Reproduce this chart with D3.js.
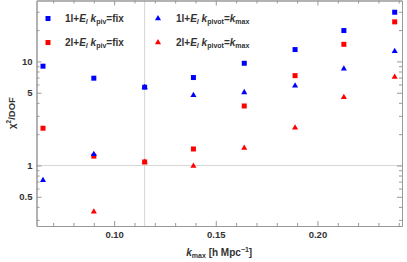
<!DOCTYPE html>
<html>
<head>
<meta charset="utf-8">
<title>chi2 vs kmax</title>
<script type="text/javascript" src="https://d3js.org/d3.v7.js"></script>
<style>
  body { margin: 0; background: #fff; }
  text { font-family: "Liberation Sans", Arial, sans-serif; font-weight: bold; fill: #333; }
</style>
</head>
<body>
<script type="text/javascript">
const width = 407;
const height = 262;
const marginTop = 0.5;
const marginRight = 5;
const marginBottom = 36;
const marginLeft = 36.5;

// data
const kmax = [0.065, 0.090, 0.115, 0.139, 0.164, 0.189, 0.213, 0.238];
const oneLoopFix   = [9.0, 6.9, 5.65, 7.0, 9.6, 13.0, 19.8, 29.7];
const twoLoopFix   = [2.28, 1.23, 1.08, 1.44, 3.73, 7.3, 14.6, 24.0];
const oneLoopPivot = [0.72, 1.28, 5.65, 4.72, 5.04, 5.85, 8.5, 12.5];
const twoLoopPivot = [null, 0.36, 1.08, 0.99, 1.47, 2.31, 4.52, 7.07];
const xMajor = [0.10, 0.15, 0.20];
const yMajor = [0.5, 1, 5, 10];
const kPivotFix = 0.115;

const svg = d3.select("body").append("svg")
  .attr("width", width).attr("height", height);

const x = d3.scaleLinear().domain([0.0618, 0.2416]).range([marginLeft, width - marginRight]);
const y = d3.scaleLog().domain([0.262, 38.5]).range([height - marginBottom, marginTop]);

// grid lines
svg.append("line")
  .attr("x1", x(kPivotFix)).attr("x2", x(kPivotFix))
  .attr("y1", y.range()[0]).attr("y2", y.range()[1])
  .attr("stroke", "#d6d6d6").attr("stroke-width", 1);
svg.append("line")
  .attr("x1", x.range()[0]).attr("x2", x.range()[1])
  .attr("y1", y(1)).attr("y2", y(1))
  .attr("stroke", "#d6d6d6").attr("stroke-width", 1);

// ticks
const xMinor = d3.range(7, 25).map(d => d / 100).filter(d => !xMajor.some(m => Math.abs(m - d) < 1e-9));
const yMinor = [0.3, 0.4, 0.6, 0.7, 0.8, 0.9, 2, 3, 4, 6, 7, 8, 9, 20, 30];
const fmtX = d3.format(".2f");
const fmtY = d => d < 1 ? String(d) : String(d);

function frameAxis(axis, tf) {
  const g = svg.append("g").attr("transform", tf).call(axis);
  g.select(".domain").attr("stroke", "#999");
  g.selectAll(".tick line").attr("stroke", "#999");
  g.selectAll(".tick text").attr("font-size", 9.5).attr("fill", "#333");
  return g;
}
const bottomY = height - marginBottom;
const rightX = width - marginRight;

frameAxis(d3.axisBottom(x).tickValues(xMajor).tickFormat(fmtX).tickSizeInner(-5).tickSizeOuter(0).tickPadding(5), `translate(0,${bottomY})`);
frameAxis(d3.axisBottom(x).tickValues(xMinor).tickFormat("").tickSizeInner(-3).tickSizeOuter(0), `translate(0,${bottomY})`);
frameAxis(d3.axisTop(x).tickValues(xMajor).tickFormat("").tickSizeInner(-5).tickSizeOuter(0), `translate(0,${marginTop})`);
frameAxis(d3.axisTop(x).tickValues(xMinor).tickFormat("").tickSizeInner(-3).tickSizeOuter(0), `translate(0,${marginTop})`);
frameAxis(d3.axisLeft(y).tickValues(yMajor).tickFormat(fmtY).tickSizeInner(-5).tickSizeOuter(0).tickPadding(4), `translate(${marginLeft},0)`);
frameAxis(d3.axisLeft(y).tickValues(yMinor).tickFormat("").tickSizeInner(-3).tickSizeOuter(0), `translate(${marginLeft},0)`);
frameAxis(d3.axisRight(y).tickValues(yMajor).tickFormat("").tickSizeInner(-5).tickSizeOuter(0), `translate(${rightX},0)`);
frameAxis(d3.axisRight(y).tickValues(yMinor).tickFormat("").tickSizeInner(-3).tickSizeOuter(0), `translate(${rightX},0)`);

// markers
const sqSym = d3.symbol().type(d3.symbolSquare).size(25);
const triSym = d3.symbol().type(d3.symbolTriangle).size(16);
const series = [
  { vals: oneLoopFix, color: "#0000ff", sym: sqSym },
  { vals: twoLoopFix, color: "#ff0000", sym: sqSym },
  { vals: oneLoopPivot, color: "#0000ff", sym: triSym },
  { vals: twoLoopPivot, color: "#ff0000", sym: triSym }
];
series.forEach(s => {
  svg.append("g").selectAll("path")
    .data(kmax.map((k, i) => [k, s.vals[i]]).filter(d => d[1] != null))
    .join("path")
    .attr("d", s.sym)
    .attr("transform", d => `translate(${x(d[0])},${y(d[1])})`)
    .attr("fill", s.color);
});

// legend
function legendLabel(g, tx, ty, pivotStyle) {
  const t = g.append("text").attr("x", tx).attr("y", ty).attr("font-size", 10).attr("fill", "#111");
  t.append("tspan").text(pivotStyle.prefix + "+");
  t.append("tspan").attr("font-style", "italic").text("E");
  t.append("tspan").attr("font-style", "italic").attr("font-size", 7).attr("dy", 2).text("l");
  t.append("tspan").attr("dy", -2).text(" ");
  t.append("tspan").attr("font-style", "italic").text("k");
  t.append("tspan").attr("font-size", 7).attr("dy", 2).text(pivotStyle.sub);
  t.append("tspan").attr("dy", -2).text("=");
  if (pivotStyle.rhs === "fix") {
    t.append("tspan").text("fix");
  } else {
    t.append("tspan").attr("font-style", "italic").text("k");
    t.append("tspan").attr("font-size", 7).attr("dy", 2).text("max");
  }
}
const legend = svg.append("g");
const legendItems = [
  { lx: 48, ly: 18.5, sym: sqSym, color: "#0000ff", prefix: "1l", sub: "piv", rhs: "fix" },
  { lx: 48, ly: 42.5, sym: sqSym, color: "#ff0000", prefix: "2l", sub: "piv", rhs: "fix" },
  { lx: 158, ly: 18.5, sym: triSym, color: "#0000ff", prefix: "1l", sub: "pivot", rhs: "kmax" },
  { lx: 158, ly: 42.5, sym: triSym, color: "#ff0000", prefix: "2l", sub: "pivot", rhs: "kmax" }
];
legendItems.forEach(it => {
  legend.append("path").attr("d", it.sym).attr("fill", it.color)
    .attr("transform", `translate(${it.lx},${it.ly})`);
  legendLabel(legend, it.lx + (it.sub === "piv" ? 17 : 18), it.ly + 3.5, it);
});

// axis labels
const xl = svg.append("text")
  .attr("x", (marginLeft + rightX) / 2).attr("y", 256)
  .attr("text-anchor", "middle").attr("font-size", 10).attr("fill", "#333");
xl.append("tspan").attr("font-style", "italic").text("k");
xl.append("tspan").attr("font-size", 7).attr("dy", 2).text("max");
xl.append("tspan").attr("dy", -2).text(" [h Mpc");
xl.append("tspan").attr("font-size", 7).attr("dy", -4).text("−1");
xl.append("tspan").attr("dy", 4).text("]");

const yl = svg.append("text")
  .attr("transform", `translate(15,${bottomY / 2}) rotate(-90)`)
  .attr("text-anchor", "middle").attr("font-size", 9.5).attr("fill", "#333");
yl.append("tspan").text("χ");
yl.append("tspan").attr("font-size", 6.5).attr("dy", -4).text("2");
yl.append("tspan").attr("dy", 4).text("/DOF");
</script>
</body>
</html>
